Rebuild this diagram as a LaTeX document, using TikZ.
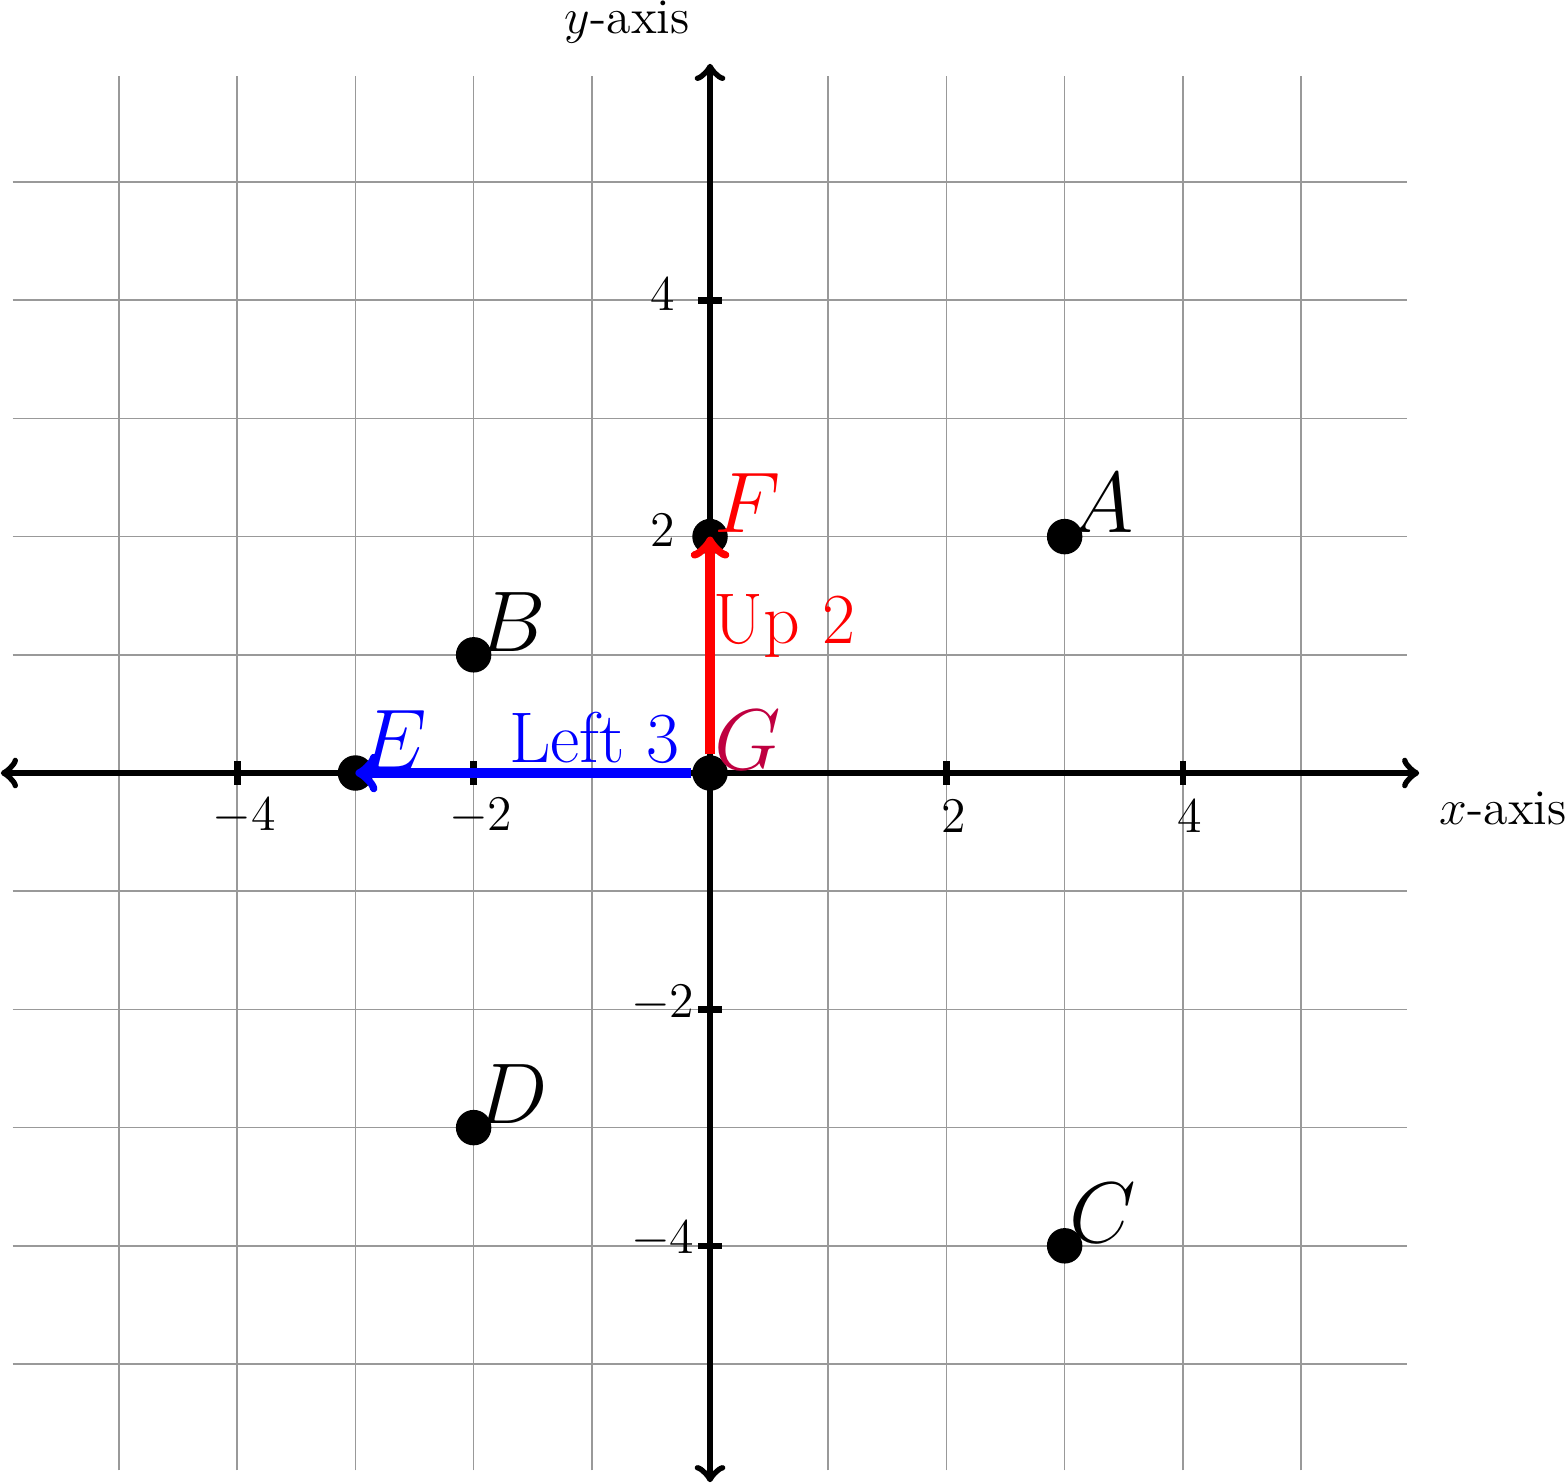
\documentclass[tikz,border=0pt]{standalone}
\usepackage{amsmath}
\usetikzlibrary{positioning,calc}

\begin{document}
\begin{tikzpicture}[
    gridline/.style={gray!80, line width=0.4pt},
    axis/.style={<->, ultra thick},
    tick/.style={ultra thick},
    ticklabel/.style={font=\large, inner sep=0pt},
    axlabel/.style={font=\large, inner sep=0pt},
    dot/.style={circle, fill=black, inner sep=0pt, minimum size=0.3cm},
    ptlabel/.style={font=\huge, inner sep=0pt, xshift=0.32cm, yshift=0.28cm},
    move/.style={->, line width=2.2pt},
    movetext/.style={font=\LARGE, inner sep=0pt}
]
    \useasboundingbox (-6.007,-6.006) rectangle (7.25,6.54);

    % grid and axes
    \draw[gridline] (-5.9,-5.9) grid (5.9,5.9);
    \coordinate (xmin) at (-6,0);
    \coordinate (xmax) at (6,0);
    \coordinate (ymin) at (0,-6);
    \coordinate (ymax) at (0,6);
    \draw[axis] (xmin) -- (xmax);
    \draw[axis] (ymin) -- (ymax);
    \node[axlabel] (xlab) at (6.71,-0.30) {$x$-axis};
    \node[axlabel] (ylab) at (-0.70,6.35) {$y$-axis};

    % ticks
    \foreach \tk in {-4,-2,2,4} {
        \draw[tick] (\tk,0.1) -- (\tk,-0.1);
        \node[ticklabel] at (\tk+0.06,-0.37) {$\tk$};
        \draw[tick] (0.1,\tk) -- (-0.1,\tk);
        \node[ticklabel] at (-0.4,\tk+0.05) {$\tk$};
    }

    % points
    \node[dot] (A) at (3,2) {};
    \node[dot] (B) at (-2,1) {};
    \node[dot] (C) at (3,-4) {};
    \node[dot] (D) at (-2,-3) {};
    \node[dot] (E) at (-3,0) {};
    \node[dot] (F) at (0,2) {};
    \node[dot] (G) at (0,0) {};

    % moves
    \draw[move, blue] (G) -- (E.center);
    \draw[move, red] (G) -- (F.center);
    \node[movetext, blue] (left) at (-0.98,0.30) {Left 3};
    \node[movetext, red] (up) at (0.63,1.24) {Up 2};

    % labels
    \node[ptlabel] (lA) at (A) {$A$};
    \node[ptlabel] (lB) at (B) {$B$};
    \node[ptlabel] (lC) at (C) {$C$};
    \node[ptlabel] (lD) at (D) {$D$};
    \node[ptlabel, blue] (lE) at (E) {$E$};
    \node[ptlabel, red] (lF) at (F) {$F$};
    \node[ptlabel, purple] (lG) at (G) {$G$};
\end{tikzpicture}
\end{document}
